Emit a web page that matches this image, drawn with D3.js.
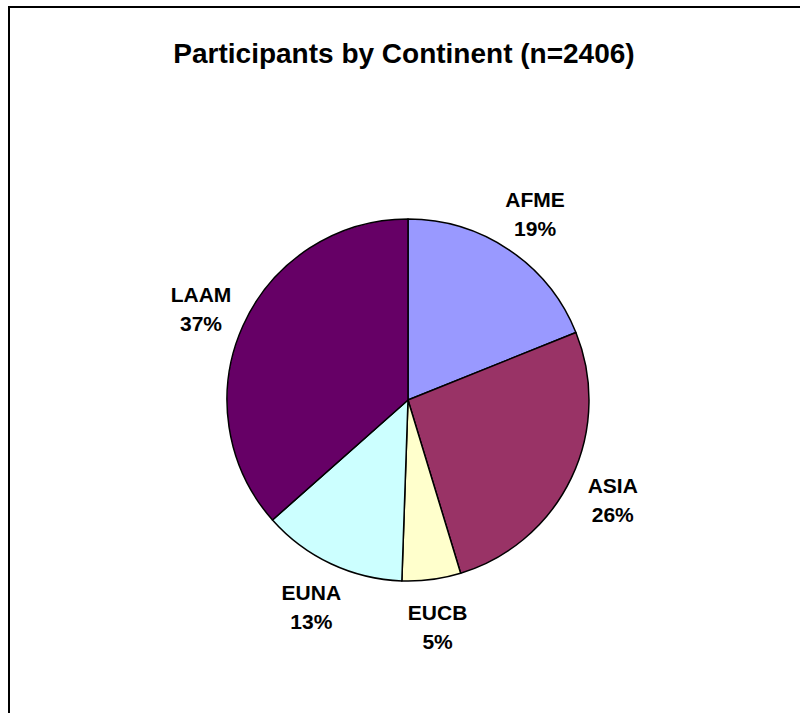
<!DOCTYPE html>
<html>
<head>
<meta charset="utf-8">
<script src="https://cdn.jsdelivr.net/npm/d3@7"></script>
<style>
  html, body { margin: 0; padding: 0; background: #fff; }
  svg { display: block; }
  text { font-family: "Liberation Sans", Arial, sans-serif; font-weight: bold; fill: #000; }
</style>
</head>
<body>
<script>
// Data
const categories = ["AFME", "ASIA", "EUCB", "EUNA", "LAAM"];
const counts = [455, 635, 126, 311, 879];
const colors = ["#9999FF", "#993366", "#FFFFCC", "#CCFFFF", "#660066"];
const titleText = "Participants by Continent (n=2406)";

const W = 800, H = 713;
const cx = 408, cy = 400, R = 181, labelR = 227;

const svg = d3.select("body").append("svg").attr("width", W).attr("height", H);

// chart area border (runs off right and bottom edges)
svg.append("rect")
  .attr("x", 9).attr("y", 7).attr("width", W + 20).attr("height", H + 20)
  .attr("fill", "#fff").attr("stroke", "#000").attr("stroke-width", 2);

svg.append("text")
  .attr("x", 404).attr("y", 63)
  .attr("text-anchor", "middle")
  .style("font-size", "28px")
  .text(titleText);

const total = d3.sum(counts);
const data = categories.map((c, i) => ({ name: c, value: counts[i], color: colors[i] }));

const pie = d3.pie().value(d => d.value).sort(null);
const arcs = pie(data);
const arc = d3.arc().innerRadius(0).outerRadius(R);
const labelArc = d3.arc().innerRadius(labelR).outerRadius(labelR);

const g = svg.append("g").attr("transform", `translate(${cx},${cy})`);

g.selectAll("path.slice")
  .data(arcs)
  .enter().append("path")
  .attr("class", "slice")
  .attr("d", arc)
  .attr("fill", d => d.data.color)
  .attr("stroke", "#000")
  .attr("stroke-width", 1.5)
  .attr("stroke-linejoin", "round");

const fmt = v => Math.round(v / total * 100) + "%";

const lbl = g.selectAll("g.lbl")
  .data(arcs)
  .enter().append("g")
  .attr("class", "lbl")
  .attr("transform", d => { const c = labelArc.centroid(d); return `translate(${c[0]},${c[1]})`; });

lbl.append("text")
  .attr("text-anchor", "middle")
  .attr("y", -5)
  .style("font-size", "21px")
  .text(d => d.data.name);

lbl.append("text")
  .attr("text-anchor", "middle")
  .attr("y", 24)
  .style("font-size", "21px")
  .text(d => fmt(d.data.value));
</script>
</body>
</html>
